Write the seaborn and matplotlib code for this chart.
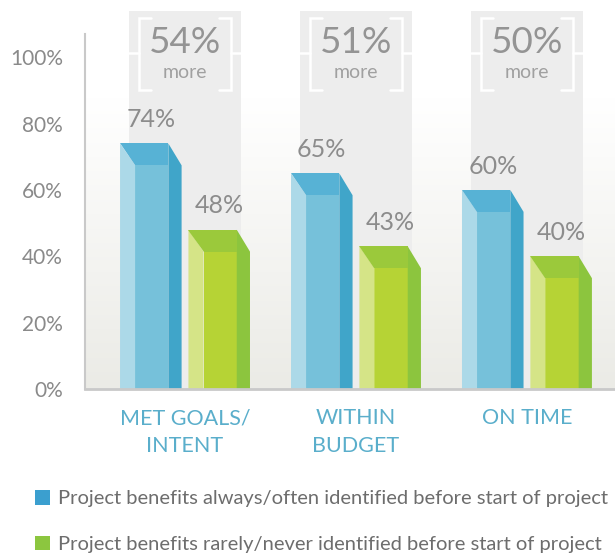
import numpy as np
import pandas as pd
import matplotlib.pyplot as plt
import seaborn as sns
from matplotlib.patches import Polygon, Rectangle, Patch
from matplotlib.colors import LinearSegmentedColormap

# Chart data
categories = ["MET GOALS/\nINTENT", "WITHIN\nBUDGET", "ON TIME"]
always_often = [74, 65, 60]
rarely_never = [48, 43, 40]
more_labels = ["54%", "51%", "50%"]
series = ["Project benefits always/often identified before start of project",
          "Project benefits rarely/never identified before start of project"]
y_ticks = [0, 20, 40, 60, 80, 100]

df = pd.DataFrame({
    "category": categories * 2,
    "value": always_often + rarely_never,
    "series": [series[0]] * 3 + [series[1]] * 3,
})

# face colours for the fake 3d bars: left, front, right, top
blue_faces = ["#acd9e8", "#76c1da", "#40a5c9", "#57b2d5"]
green_faces = ["#d5e487", "#b6d335", "#8cc53e", "#9bc93b"]
legend_colors = ["#3b9fcf", "#8cc63f"]

sns.set_style("white")
plt.rcParams["font.family"] = ["Lato", "DejaVu Sans"]

fig = plt.figure(figsize=(6.15, 5.55), dpi=100)
ax = fig.add_axes([85 / 615, 166 / 555, 530 / 615, 355 / 555])

sns.barplot(data=df, x="category", y="value", hue="series",
            palette=[blue_faces[1], green_faces[1]], width=0.8, gap=0.1,
            saturation=1, legend=False, ax=ax, zorder=3, linewidth=0)

ax.set_xlim(-0.585, 2.515)
ax.set_ylim(0, 107)

# soft gradient behind the plot
grad = LinearSegmentedColormap.from_list("bg", ["#ebebe6", "#ffffff"])
ax.imshow(np.linspace(0, 1, 100).reshape(-1, 1), cmap=grad, origin="lower",
          extent=[-0.585, 2.515, 0, 88], aspect="auto", zorder=0)

# gray columns with bracket annotations
for i, lab in enumerate(more_labels):
    ax.add_patch(Rectangle((i - 0.328, 0), 0.655, 114, color="#ededed",
                           zorder=0.5, clip_on=False, lw=0))
    for side in (-1, 1):
        xb = i + side * 0.27
        xe = xb - side * 0.07
        ax.plot([xe, xb, xb, xe], [111.7, 111.7, 90, 90], color="white",
                lw=1.8, zorder=1, clip_on=False, solid_joinstyle="miter")
        ax.plot([xb, i + side * 0.328], [101.2, 101.2], color="white",
                lw=1.8, zorder=1, clip_on=False)
    ax.text(i, 104.3, lab, ha="center", va="center", fontsize=26.5,
            color="#949494", zorder=2, clip_on=False)
    ax.text(i, 95.5, "more", ha="center", va="center", fontsize=14,
            color="#a0a0a0", zorder=2)

# turn the flat bars into boxes
d = 6.6
for cont, faces in zip(ax.containers, [blue_faces, green_faces]):
    for bar in cont:
        x0, w, h = bar.get_x(), bar.get_width(), bar.get_height()
        xl, xr = x0 + 0.245 * w, x0 + 0.785 * w
        ax.add_patch(Polygon([(x0, h), (xl, h - d), (xl, 0), (x0, 0)],
                             color=faces[0], lw=0, zorder=3))
        ax.add_patch(Polygon([(xr, h), (x0 + w, h - d), (x0 + w, 0), (xr, 0)],
                             color=faces[2], lw=0, zorder=3))
        ax.add_patch(Polygon([(x0, h), (xr, h), (xr, h - d), (xl, h - d)],
                             color=faces[3], lw=0, zorder=3))
        bar.set_x(xl)
        bar.set_width(xr - xl)
        bar.set_height(h - d)
        bar.set_edgecolor("none")
        ax.text(x0 + w / 2, h + 7.2, f"{h:.0f}%", ha="center", va="center",
                fontsize=18, color="#8c8c8c", zorder=4)

# axes styling
ax.set_yticks(y_ticks)
ax.set_yticklabels([f"{t}%" for t in y_ticks], fontsize=15, color="#8a8a8a")
ax.tick_params(axis="y", length=0, pad=16)
ax.tick_params(axis="x", length=0, pad=14, labelsize=15.5, labelcolor="#5aaecb")
for t in ax.get_xticklabels():
    t.set_linespacing(1.45)
ax.set_xlabel("")
ax.set_ylabel("")
sns.despine(ax=ax)
ax.spines["left"].set_color("#c9c9c9")
ax.spines["left"].set_linewidth(1.5)
ax.spines["bottom"].set_color("#c9c9c9")
ax.spines["bottom"].set_linewidth(2)
ax.spines["left"].set_zorder(5)
ax.spines["bottom"].set_zorder(5)

# legend
handles = [Patch(color=c, lw=0) for c in legend_colors]
fig.legend(handles, series, loc="upper left", bbox_to_anchor=(35 / 615, 1 - 490 / 555),
           frameon=False, fontsize=14.5, handlelength=0.75, handleheight=0.75,
           handletextpad=0.4, labelspacing=1.4, labelcolor="#6d6d6d",
           borderaxespad=0, borderpad=0)

plt.savefig("out.png", dpi=100)
